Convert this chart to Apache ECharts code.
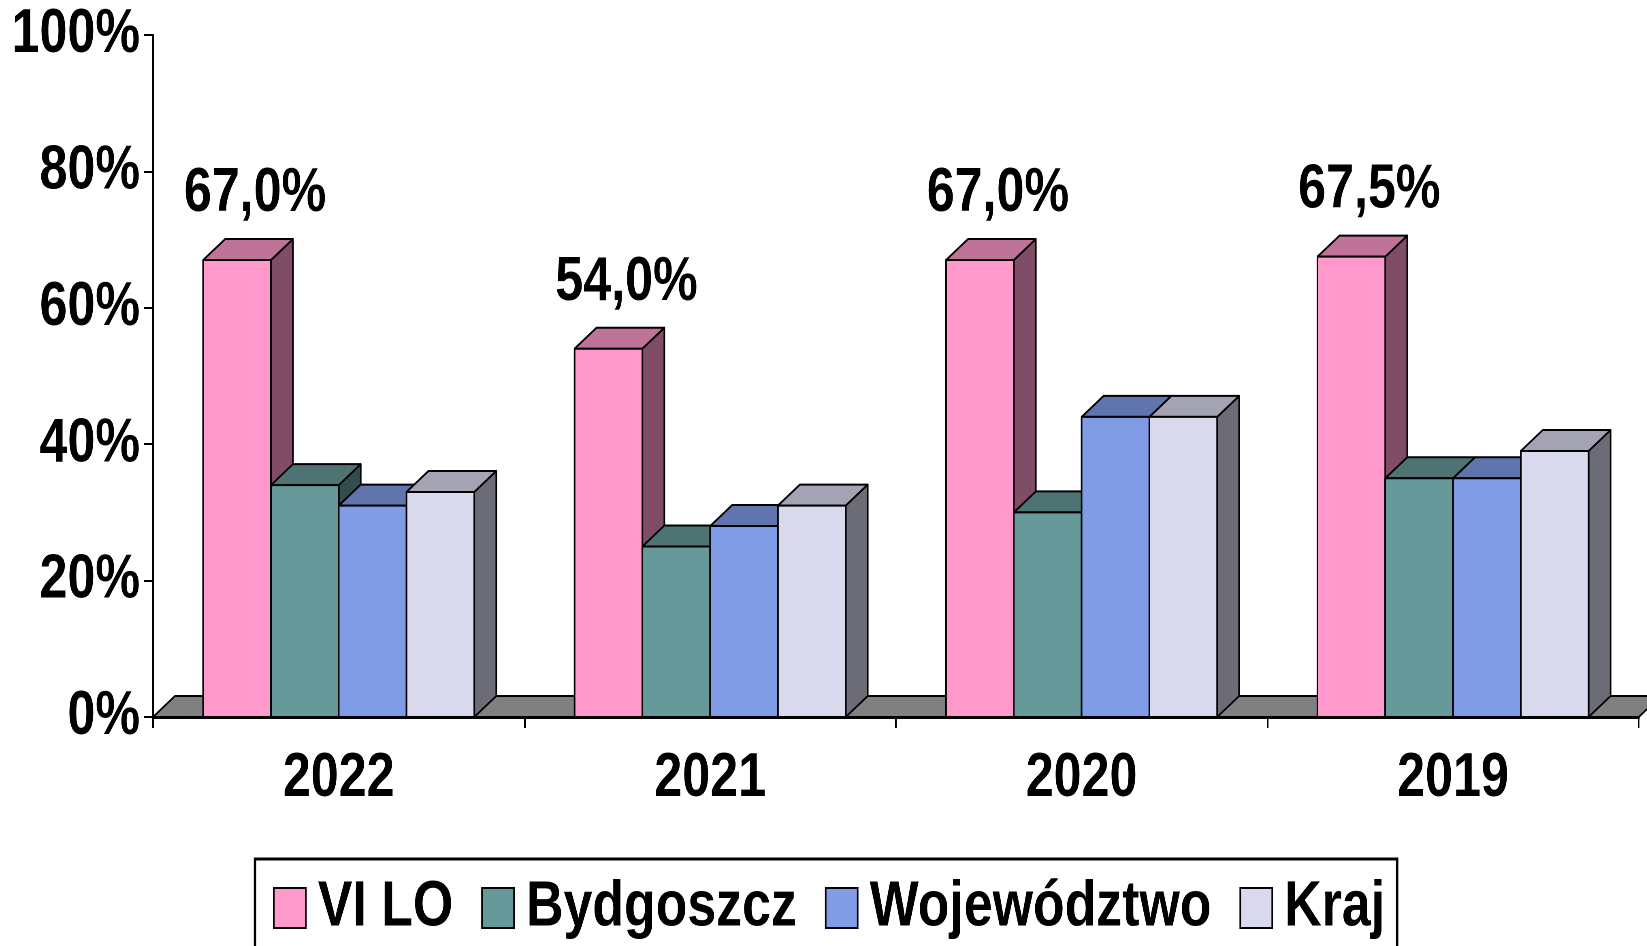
<!DOCTYPE html>
<html>
<head>
<meta charset="utf-8">
<title>VI LO</title>
<script src="https://cdn.jsdelivr.net/npm/echarts@6/dist/echarts.min.js"></script>
<style>
    html, body { margin: 0; padding: 0; background: #fff; overflow: hidden; }
    #chart { height: 946px; transform-origin: 0 0; }
</style>
</head>
<body>
<div id="chart"></div>
<script>
// dane
var categories = ['2022', '2021', '2020', '2019'];
var seriesNames = ['VI LO', 'Bydgoszcz', 'Województwo', 'Kraj'];
var viLo = [67.0, 54.0, 67.0, 67.5];
var bydgoszcz = [34, 25, 30, 35];
var wojewodztwo = [31, 28, 44, 35];
var kraj = [33, 31, 44, 39];

// oryginal uzywa waskiej czcionki (Arial Narrow) - brak jej, wiec caly wykres
// jest rysowany szerzej i zwezany w poziomie przez CSS
var S = 0.81;
function px(x) { return x / S; }

var FONT = "'Liberation Sans', Arial, sans-serif";
var FS = 62;
var DX = px(22), DY = 21;  // glebokosc 3D
var GROUP = 0.73;          // szerokosc grupy slupkow w kategorii

// kolory: przod, gora, bok
var colors = [
    ['#FF99CC', '#BF7399', '#804D66'],
    ['#669999', '#4D7373', '#334D4D'],
    ['#809CE6', '#6075AD', '#404E73'],
    ['#D9D9EE', '#A3A3B3', '#6C6C77']
];

function fmt(v) {
    return v.toFixed(1).replace('.', ',') + '%';
}

function barRender(idx, withLabel) {
    return function (params, api) {
        var cat = api.value(0), val = api.value(1);
        var base = api.coord([cat, 0]);
        var top = api.coord([cat, val]);
        var band = api.size([1, 0])[0];
        var w = band * GROUP / 4;
        var x0 = base[0] - band * GROUP / 2 + idx * w;
        var x1 = x0 + w;
        var yb = base[1], yt = top[1];
        var line = {stroke: '#000', lineWidth: 2, lineJoin: 'round'};
        var c = colors[idx];
        var children = [
            {type: 'polygon', shape: {points: [[x1, yt], [x1 + DX, yt - DY], [x1 + DX, yb - DY], [x1, yb]]},
                style: Object.assign({fill: c[2]}, line)},
            {type: 'polygon', shape: {points: [[x0, yt], [x0 + DX, yt - DY], [x1 + DX, yt - DY], [x1, yt]]},
                style: Object.assign({fill: c[1]}, line)},
            {type: 'rect', shape: {x: x0, y: yt, width: w, height: yb - yt},
                style: Object.assign({fill: c[0]}, line)}
        ];
        if (withLabel) {
            children.push({
                type: 'text',
                style: {
                    text: fmt(val), x: (x0 + x1) / 2 + px(18), y: yt - 66,
                    align: 'center', verticalAlign: 'middle',
                    fontSize: FS, fontWeight: 'bold', fontFamily: FONT, fill: '#000'
                }
            });
        }
        return {type: 'group', children: children};
    };
}

function floorRender(params, api) {
    var cs = params.coordSys;
    var yb = cs.y + cs.height;
    return {
        type: 'polygon',
        shape: {points: [[cs.x, yb], [cs.x + DX, yb - DY], [cs.x + cs.width + DX, yb - DY], [cs.x + cs.width, yb]]},
        style: {fill: '#808080', stroke: '#000', lineWidth: 2}
    };
}

function toData(arr) {
    return arr.map(function (v, i) { return [i, v]; });
}

var dom = document.getElementById('chart');
dom.style.width = px(1647) + 'px';
dom.style.transform = 'scaleX(' + S + ')';
var myChart = echarts.init(dom, null, {devicePixelRatio: 2});
var allValues = [viLo, bydgoszcz, wojewodztwo, kraj];

var series = [{
    name: 'floor',
    type: 'custom',
    renderItem: floorRender,
    data: [[0, 0]],
    silent: true
}];
allValues.forEach(function (arr, i) {
    series.push({
        name: seriesNames[i],
        type: 'custom',
        renderItem: barRender(i, i === 0),
        itemStyle: {color: colors[i][0], borderColor: '#000', borderWidth: 2},
        encode: {x: 0, y: 1},
        data: toData(arr)
    });
});

var option = {
    animation: false,
    backgroundColor: '#fff',
    grid: {left: px(153), right: px(8), top: 35, bottom: 229, containLabel: false, outerBoundsMode: 'none'},
    legend: {
        data: seriesNames.map(function (n, i) {
            return {name: n, icon: 'rect', itemStyle: {color: colors[i][0], borderColor: '#000', borderWidth: 2}};
        }),
        left: px(255),
        top: 859,
        itemWidth: px(32),
        itemHeight: 40,
        itemGap: px(28),
        padding: [17, px(12), 60, px(18)],
        borderColor: '#000',
        borderWidth: 3,
        selectedMode: false,
        textStyle: {fontSize: 64, fontWeight: 'bold', fontFamily: FONT, color: '#000', padding: [0, 0, 0, px(8)]}
    },
    xAxis: {
        type: 'category',
        data: categories,
        axisLine: {lineStyle: {color: '#000', width: 3}},
        axisTick: {show: true, length: 11, lineStyle: {color: '#000', width: 2}},
        axisLabel: {fontSize: FS, fontWeight: 'bold', fontFamily: FONT, color: '#000', margin: 31},
        splitLine: {show: false}
    },
    yAxis: {
        type: 'value',
        min: 0,
        max: 100,
        interval: 20,
        axisLine: {show: true, lineStyle: {color: '#000', width: 2}},
        axisTick: {show: true, length: px(9), lineStyle: {color: '#000', width: 2}},
        axisLabel: {formatter: '{value}%', fontSize: FS, fontWeight: 'bold', fontFamily: FONT, color: '#000',
            margin: px(13), padding: [16, 0, 0, 0]},
        splitLine: {show: false}
    },
    series: series
};
myChart.setOption(option);
</script>
</body>
</html>
